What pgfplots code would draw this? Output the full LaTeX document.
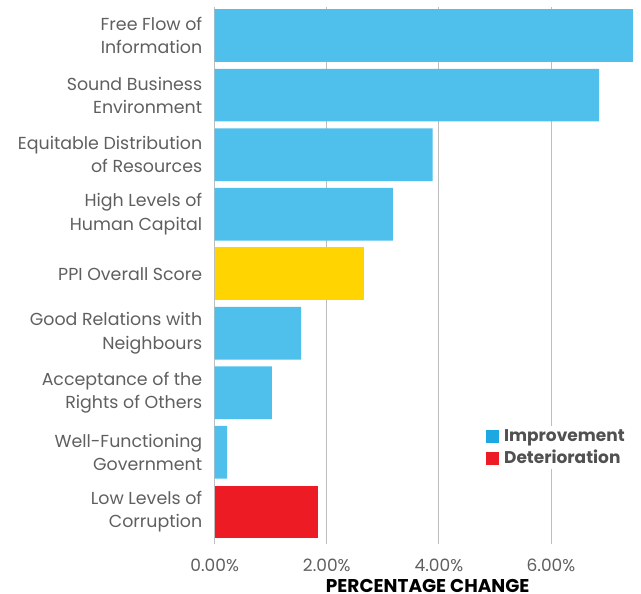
\documentclass[border=0pt]{standalone}
\usepackage{fontspec}
\setmainfont{Poppins}
\usepackage{pgfplots}
\pgfplotsset{compat=1.18}

\definecolor{barblue}{RGB}{79,191,235}
\definecolor{legblue}{RGB}{30,168,225}
\definecolor{barred}{RGB}{237,28,36}
\definecolor{baryellow}{RGB}{255,212,0}
\definecolor{labgray}{RGB}{95,95,95}
\definecolor{gridgray}{RGB}{190,190,190}

\begin{document}
\begin{tikzpicture}
\useasboundingbox (-214.7pt,-50pt) rectangle (426.3pt,544pt);
\begin{axis}[
  scale only axis,
  width=426pt, height=537pt,
  xmin=0, xmax=7.6,
  ymin=-0.48, ymax=8.54,
  y dir=reverse,
  xbar, bar width=52.7pt,
  axis line style={draw=none},
  major tick length=0pt,
  xtick={0,2,4,6},
  xmajorgrids,
  grid style={gridgray, line width=0.9pt},
  xticklabel={\pgfmathprintnumber[assume math mode=true,fixed,fixed zerofill,precision=2]{\tick}\%},
  xticklabel style={font=\fontsize{17}{20}\selectfont, text=labgray, yshift=-11pt},
  ytick={0,...,8},
  yticklabels={{Free Flow of\\Information},{Sound Business\\Environment},{Equitable Distribution\\of Resources},{High Levels of\\Human Capital},{PPI Overall Score},{Good Relations with\\Neighbours},{Acceptance of the\\Rights of Others},{Well-Functioning\\Government},{Low Levels of\\Corruption}},
  yticklabel style={align=right, font=\fontsize{17.4}{23.3}\selectfont, text=labgray, xshift=-9pt},
  xlabel={PERCENTAGE CHANGE},
  xlabel style={font=\fontsize{18.5}{20}\selectfont\bfseries, text=black, inner sep=0pt, yshift=-5pt},
  legend style={at={(axis cs:4.8,6.55)}, anchor=north west, draw=none, fill=white,
    font=\fontsize{17}{20}\selectfont\bfseries, text=labgray!85!black,
    row sep=3pt, inner sep=2pt},
  legend cell align=left,
  legend image code/.code={\fill[#1] (0pt,-6pt) rectangle (12pt,6pt); \path[draw=none] (0pt,0pt) -- (16pt,0pt);},
]
\addplot[draw=none, fill=barblue, bar shift=0pt, forget plot] coordinates {
  (7.46,0) (6.86,1) (3.89,2) (3.18,3) (1.54,5) (1.02,6) (0.22,7)
};
\addplot[draw=none, fill=baryellow, bar shift=0pt, forget plot] coordinates {
  (2.67,4)
};
\addplot[draw=none, fill=barred, bar shift=0pt, forget plot] coordinates {
  (1.84,8)
};
\addlegendimage{legblue}
\addlegendentry{Improvement}
\addlegendimage{barred}
\addlegendentry{Deterioration}
\end{axis}
\end{tikzpicture}
\end{document}
